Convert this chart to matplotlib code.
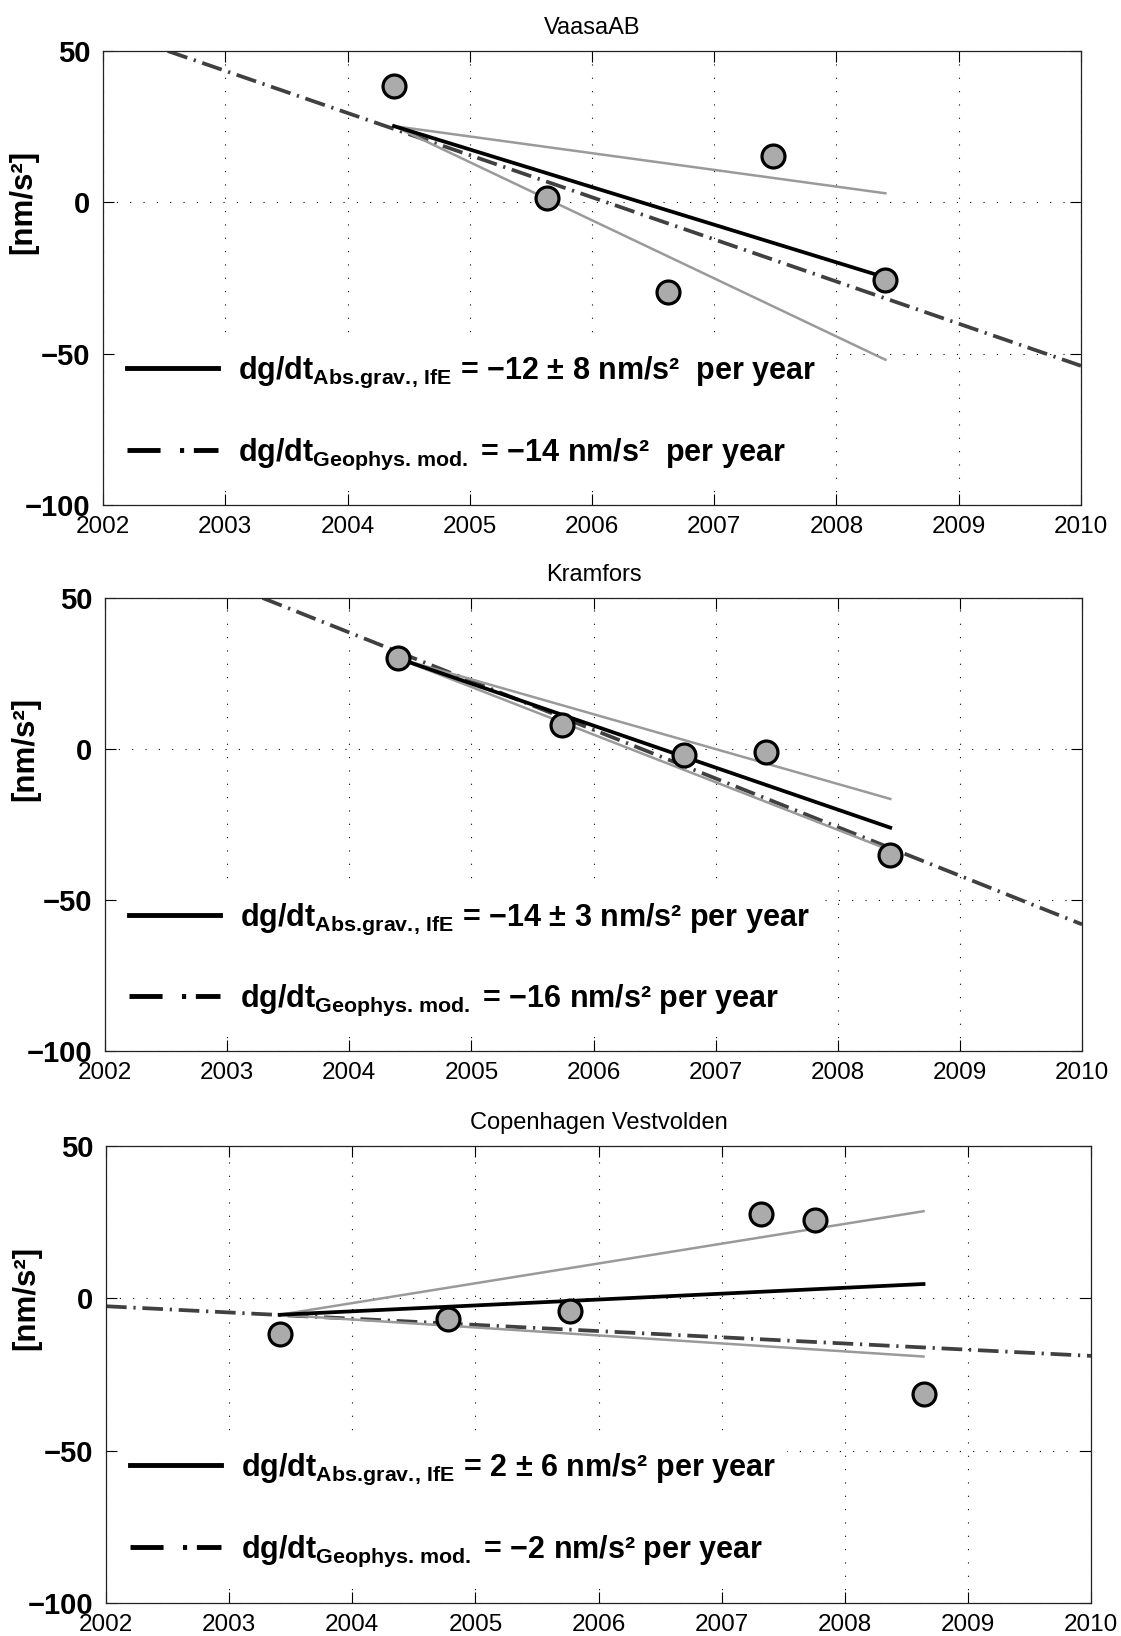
import matplotlib
matplotlib.use("Agg")
import matplotlib.pyplot as plt
from matplotlib.lines import Line2D

plt.rcParams['font.family'] = ['Liberation Sans', 'DejaVu Sans']
plt.rcParams['mathtext.fontset'] = 'custom'
plt.rcParams['mathtext.rm'] = 'Liberation Sans'
plt.rcParams['mathtext.bf'] = 'Liberation Sans:bold'
plt.rcParams['mathtext.it'] = 'Liberation Sans:italic'

# ---------------- data ----------------
titles = ["VaasaAB", "Kramfors", "Copenhagen Vestvolden"]

vaasa_years = [2004.38, 2005.63, 2006.62, 2007.48, 2008.40]
vaasa_dg = [38.5, 1.5, -29.6, 15.4, -25.8]
vaasa_trend_x = [2004.38, 2008.40]
vaasa_trend = [25.2, -24.8]
vaasa_upper = [25.2, 3.0]
vaasa_lower = [25.2, -52.0]
vaasa_model_x = [2002.53, 2010.0]
vaasa_model = [50.0, -54.0]

kram_years = [2004.40, 2005.74, 2006.74, 2007.41, 2008.43]
kram_dg = [30.0, 8.0, -2.0, -1.1, -35.0]
kram_trend_x = [2004.40, 2008.43]
kram_trend = [30.0, -26.0]
kram_upper = [30.0, -16.5]
kram_lower = [30.0, -33.5]
kram_model_x = [2003.29, 2010.0]
kram_model = [50.0, -58.0]

copen_years = [2003.41, 2004.78, 2005.77, 2007.32, 2007.76, 2008.64]
copen_dg = [-11.7, -6.7, -4.3, 27.7, 25.6, -31.3]
copen_trend_x = [2003.41, 2008.64]
copen_trend = [-5.4, 4.7]
copen_upper = [-5.4, 28.6]
copen_lower = [-5.4, -19.1]
copen_model_x = [2002.0, 2010.0]
copen_model = [-2.6, -18.9]

SUB_ABS = r"$_{\mathbf{Abs.\!grav.\!,\,IfE}}$"
SUB_MOD = r"$_{\mathbf{Geophys.\,mod.}}$"
labels_abs = ["dg/dt" + SUB_ABS + " = −12 ± 8 nm/s²  per year",
              "dg/dt" + SUB_ABS + " = −14 ± 3 nm/s² per year",
              "dg/dt" + SUB_ABS + " = 2 ± 6 nm/s² per year"]
labels_mod = ["dg/dt" + SUB_MOD + " = −14 nm/s²  per year",
              "dg/dt" + SUB_MOD + " = −16 nm/s² per year",
              "dg/dt" + SUB_MOD + " = −2 nm/s² per year"]

x_ticks = list(range(2002, 2011))
y_ticks = [-100, -50, 0, 50]

panels = [
    (vaasa_years, vaasa_dg, vaasa_trend_x, vaasa_trend, vaasa_upper, vaasa_lower, vaasa_model_x, vaasa_model),
    (kram_years, kram_dg, kram_trend_x, kram_trend, kram_upper, kram_lower, kram_model_x, kram_model),
    (copen_years, copen_dg, copen_trend_x, copen_trend, copen_upper, copen_lower, copen_model_x, copen_model),
]

# axes rectangles (figure fractions)
rects = [
    [0.0919, 0.6913, 0.9643 - 0.0919, 0.9688 - 0.6913],
    [0.0937, 0.3574, 0.9652 - 0.0937, 0.6345 - 0.3574],
    [0.0946, 0.0202, 0.9732 - 0.0946, 0.2995 - 0.0202],
]

fig = plt.figure(figsize=(11.21, 16.36), dpi=100)

DASHDOT = (0, (5.5, 1.8, 0.6, 1.8))
GRID = (0, (1, 11))
LEG_FS = 22

for i, (rect, p) in enumerate(zip(rects, panels)):
    yrs, dg, tx, tr, up, lo, mx, mod = p
    ax = fig.add_axes(rect)
    ax.set_xlim(2002, 2010)
    ax.set_ylim(-100, 50)
    ax.set_xticks(x_ticks)
    ax.set_xticklabels([str(t) for t in x_ticks])
    ax.set_yticks(y_ticks)
    ax.set_yticklabels([str(t).replace('-', '\u2212') for t in y_ticks])
    ax.grid(True, linestyle=GRID, linewidth=0.8, color='k')
    ax.set_axisbelow(True)
    ax.tick_params(direction='in', length=8, width=0.8, top=True, right=True)
    ax.tick_params(axis='x', labelsize=17.5, pad=8)
    ax.tick_params(axis='y', labelsize=21, pad=9)
    for lab in ax.get_yticklabels():
        lab.set_fontweight('bold')
    for s in ax.spines.values():
        s.set_linewidth(0.9)
        s.set_color('#222222')
        s.set_zorder(3)

    ax.plot(mx, mod, color='#404040', lw=2.7, linestyle=DASHDOT, zorder=3)
    ax.plot(tx, up, color='#9a9a9a', lw=1.8, zorder=4)
    ax.plot(tx, lo, color='#9a9a9a', lw=1.8, zorder=4)
    ax.plot(tx, tr, color='black', lw=2.7, zorder=5)
    ax.plot(yrs, dg, linestyle='none', marker='o', ms=16.5, mfc='#ababab',
            mec='black', mew=2.3, zorder=6)

    ax.set_title(titles[i], fontsize=17, pad=12)
    ax.set_ylabel("[nm/s²]", fontsize=22.5, fontweight='bold')
    ax.yaxis.set_label_coords(-0.066, 2.0 / 3.0)

    handles = [Line2D([], [], color='black', lw=3.5),
               Line2D([], [], color='black', lw=3.5,
                      linestyle=(0, (6.8, 4.0, 0.85, 2.0, 12.0)))]
    leg = ax.legend(handles, [labels_abs[i], labels_mod[i]], loc='upper left',
                    bbox_to_anchor=(0.012, 0.357), borderaxespad=0.0,
                    prop={'weight': 'bold', 'size': LEG_FS},
                    handlelength=2.98, handletextpad=0.65, borderpad=0.39,
                    labelspacing=1.52, frameon=True, fancybox=False)
    leg.get_frame().set_facecolor('white')
    leg.get_frame().set_edgecolor('none')
    leg.get_frame().set_alpha(1.0)
    leg.set_zorder(2.5)

fig.savefig("out.png", dpi=100)
